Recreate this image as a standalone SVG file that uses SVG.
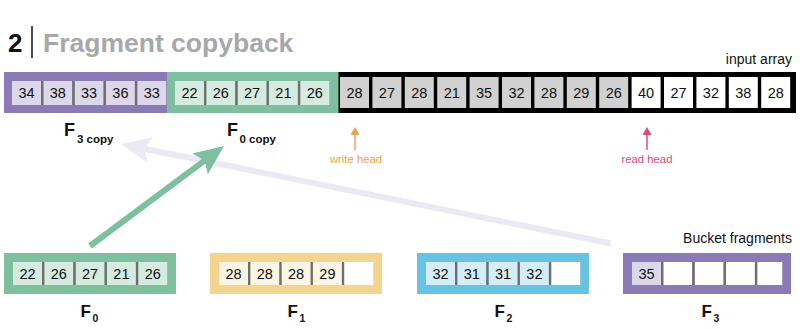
<svg xmlns="http://www.w3.org/2000/svg" width="800" height="329" viewBox="0 0 800 329">
<style>
text{font-family:"Liberation Sans",Arial,sans-serif}
.n{font-size:14.5px;text-anchor:middle;fill:#111}
.sep{fill:#6e6e6e}
.pc{fill:#dcd8ea}.gc{fill:#d6ebe0}.yc{fill:#fbf5e3}.bc{fill:#d4edf6}.kc{fill:#d1d1d1}.wc{fill:#fff}
.lbl{font-weight:bold;fill:#111}
</style>
<defs>
<marker id="hg" markerUnits="userSpaceOnUse" viewBox="0 0 30 26" refX="6" refY="13" markerWidth="30" markerHeight="26" orient="auto"><path d="M0,0 L30,13 L0,26 L6,13 Z" fill="#7dbf9f"/></marker>
<marker id="hl" markerUnits="userSpaceOnUse" viewBox="0 0 30 26" refX="6" refY="13" markerWidth="30" markerHeight="26" orient="auto"><path d="M0,0 L30,13 L0,26 L6,13 Z" fill="#ebe9f4"/></marker>
<marker id="ho" markerUnits="userSpaceOnUse" viewBox="0 0 8 9" refX="1" refY="4.5" markerWidth="8" markerHeight="9" orient="auto"><path d="M0,0 L8,4.5 L0,9 Z" fill="#f0a04c"/></marker>
<marker id="hr" markerUnits="userSpaceOnUse" viewBox="0 0 8 9" refX="1" refY="4.5" markerWidth="8" markerHeight="9" orient="auto"><path d="M0,0 L8,4.5 L0,9 Z" fill="#e0487c"/></marker>
</defs>

<g id="title">
<text x="8" y="51.5" font-size="26" font-weight="bold" fill="#111">2</text>
<line x1="32" y1="26" x2="32" y2="58" stroke="#111" stroke-width="1.5"/>
<text x="43" y="51.5" font-size="26.5" font-weight="bold" fill="#a6a8ab">Fragment copyback</text>
</g>

<g id="input-array">
<rect x="334" y="72" width="462" height="41" fill="#000"/>
<rect class="kc" x="340" y="77" width="29" height="31"/>
<rect class="kc" x="372.4" y="77" width="29" height="31"/>
<rect class="kc" x="404.8" y="77" width="29" height="31"/>
<rect class="kc" x="437.2" y="77" width="29" height="31"/>
<rect class="kc" x="469.6" y="77" width="29" height="31"/>
<rect class="kc" x="502" y="77" width="29" height="31"/>
<rect class="kc" x="534.4" y="77" width="29" height="31"/>
<rect class="kc" x="566.8" y="77" width="29" height="31"/>
<rect class="kc" x="599.2" y="77" width="29" height="31"/>
<rect class="wc" x="631.6" y="77" width="29" height="31"/>
<rect class="wc" x="664" y="77" width="29" height="31"/>
<rect class="wc" x="696.4" y="77" width="29" height="31"/>
<rect class="wc" x="728.8" y="77" width="29" height="31"/>
<rect class="wc" x="761.2" y="77" width="29" height="31"/>
<text class="n" x="354.5" y="97.5">28</text>
<text class="n" x="386.9" y="97.5">27</text>
<text class="n" x="419.3" y="97.5">28</text>
<text class="n" x="451.7" y="97.5">21</text>
<text class="n" x="484.1" y="97.5">35</text>
<text class="n" x="516.5" y="97.5">32</text>
<text class="n" x="548.9" y="97.5">28</text>
<text class="n" x="581.3" y="97.5">29</text>
<text class="n" x="613.7" y="97.5">26</text>
<text class="n" x="646.1" y="97.5">40</text>
<text class="n" x="678.5" y="97.5">27</text>
<text class="n" x="710.9" y="97.5">32</text>
<text class="n" x="743.3" y="97.5">38</text>
<text class="n" x="775.7" y="97.5">28</text>
<text x="792" y="64" font-size="14" text-anchor="end" fill="#111">input array</text>
</g>

<g id="f3-copy">
<rect x="4" y="72" width="172" height="41" fill="#8a7bb6"/>
<rect class="pc" x="12" y="81" width="29" height="24"/>
<rect class="pc" x="43.3" y="81" width="29" height="24"/>
<rect class="pc" x="74.6" y="81" width="29" height="24"/>
<rect class="pc" x="105.9" y="81" width="29" height="24"/>
<rect class="pc" x="137.2" y="81" width="29" height="24"/>
<rect class="sep" x="41" y="81" width="2.3" height="24"/>
<rect class="sep" x="72.3" y="81" width="2.3" height="24"/>
<rect class="sep" x="103.6" y="81" width="2.3" height="24"/>
<rect class="sep" x="134.9" y="81" width="2.3" height="24"/>
<text class="n" x="26.5" y="98">34</text>
<text class="n" x="57.8" y="98">38</text>
<text class="n" x="89.1" y="98">33</text>
<text class="n" x="120.4" y="98">36</text>
<text class="n" x="151.7" y="98">33</text>
<text class="lbl" x="64" y="136" font-size="18">F<tspan font-size="11.5" x="77" y="142.5">3 copy</tspan></text>
</g>

<g id="f0-copy">
<rect x="167" y="72" width="171.5" height="41" fill="#7dbf9f"/>
<rect class="gc" x="175" y="81" width="29" height="24"/>
<rect class="gc" x="206.3" y="81" width="29" height="24"/>
<rect class="gc" x="237.6" y="81" width="29" height="24"/>
<rect class="gc" x="268.9" y="81" width="29" height="24"/>
<rect class="gc" x="300.2" y="81" width="29" height="24"/>
<rect class="sep" x="204" y="81" width="2.3" height="24"/>
<rect class="sep" x="235.3" y="81" width="2.3" height="24"/>
<rect class="sep" x="266.6" y="81" width="2.3" height="24"/>
<rect class="sep" x="297.9" y="81" width="2.3" height="24"/>
<text class="n" x="189.5" y="98">22</text>
<text class="n" x="220.8" y="98">26</text>
<text class="n" x="252.1" y="98">27</text>
<text class="n" x="283.4" y="98">21</text>
<text class="n" x="314.7" y="98">26</text>
<text class="lbl" x="227" y="136" font-size="18">F<tspan font-size="11.5" x="239.5" y="142.5">0 copy</tspan></text>
</g>

<g id="write-head">
<line x1="355" y1="150" x2="355" y2="134" stroke="#f0a04c" stroke-width="1.5" marker-end="url(#ho)"/>
<text x="356" y="163" font-size="11.3" text-anchor="middle" fill="#f0a04c">write head</text>
</g>
<g id="read-head">
<line x1="647" y1="150" x2="647" y2="134" stroke="#e0487c" stroke-width="1.5" marker-end="url(#hr)"/>
<text x="647" y="163" font-size="11.3" text-anchor="middle" fill="#e0487c">read head</text>
</g>

<g id="connectors">
<line x1="611" y1="243.5" x2="144.5" y2="148.8" stroke="#ebe9f4" stroke-width="6" marker-end="url(#hl)"/>
<line x1="90" y1="246" x2="204.8" y2="160.4" stroke="#7dbf9f" stroke-width="6" marker-end="url(#hg)"/>
</g>

<g id="F0">
<rect x="4" y="253" width="172" height="41" fill="#7dbf9f"/>
<rect class="gc" x="13" y="262" width="29" height="23"/>
<rect class="gc" x="44.3" y="262" width="29" height="23"/>
<rect class="gc" x="75.6" y="262" width="29" height="23"/>
<rect class="gc" x="106.9" y="262" width="29" height="23"/>
<rect class="gc" x="138.2" y="262" width="29" height="23"/>
<rect class="sep" x="42" y="262" width="2.3" height="23"/>
<rect class="sep" x="73.3" y="262" width="2.3" height="23"/>
<rect class="sep" x="104.6" y="262" width="2.3" height="23"/>
<rect class="sep" x="135.9" y="262" width="2.3" height="23"/>
<text class="n" x="27.5" y="278.5">22</text>
<text class="n" x="58.8" y="278.5">26</text>
<text class="n" x="90.1" y="278.5">27</text>
<text class="n" x="121.4" y="278.5">21</text>
<text class="n" x="152.7" y="278.5">26</text>
<text class="lbl" x="80.5" y="317" font-size="17">F<tspan font-size="10.5" x="92.5" y="322">0</tspan></text>
</g>

<g id="F1">
<rect x="210" y="253" width="172" height="41" fill="#f5d48f"/>
<rect class="yc" x="219" y="262" width="29" height="23"/>
<rect class="yc" x="250.3" y="262" width="29" height="23"/>
<rect class="yc" x="281.6" y="262" width="29" height="23"/>
<rect class="yc" x="312.9" y="262" width="29" height="23"/>
<rect class="wc" x="344.2" y="262" width="29" height="23"/>
<rect class="sep" x="248" y="262" width="2.3" height="23"/>
<rect class="sep" x="279.3" y="262" width="2.3" height="23"/>
<rect class="sep" x="310.6" y="262" width="2.3" height="23"/>
<rect class="sep" x="341.9" y="262" width="2.3" height="23"/>
<text class="n" x="233.5" y="278.5">28</text>
<text class="n" x="264.8" y="278.5">28</text>
<text class="n" x="296.1" y="278.5">28</text>
<text class="n" x="327.4" y="278.5">29</text>
<text class="lbl" x="287.5" y="317" font-size="17">F<tspan font-size="10.5" x="299.5" y="322">1</tspan></text>
</g>

<g id="F2">
<rect x="417" y="253" width="172" height="41" fill="#67c3e1"/>
<rect class="bc" x="426" y="262" width="29" height="23"/>
<rect class="bc" x="457.3" y="262" width="29" height="23"/>
<rect class="bc" x="488.6" y="262" width="29" height="23"/>
<rect class="bc" x="519.9" y="262" width="29" height="23"/>
<rect class="wc" x="551.2" y="262" width="29" height="23"/>
<rect class="sep" x="455" y="262" width="2.3" height="23"/>
<rect class="sep" x="486.3" y="262" width="2.3" height="23"/>
<rect class="sep" x="517.6" y="262" width="2.3" height="23"/>
<rect class="sep" x="548.9" y="262" width="2.3" height="23"/>
<text class="n" x="440.5" y="278.5">32</text>
<text class="n" x="471.8" y="278.5">31</text>
<text class="n" x="503.1" y="278.5">31</text>
<text class="n" x="534.4" y="278.5">32</text>
<text class="lbl" x="494.5" y="317" font-size="17">F<tspan font-size="10.5" x="506.5" y="322">2</tspan></text>
</g>

<g id="F3">
<text x="792" y="243" font-size="14" text-anchor="end" fill="#111">Bucket fragments</text>
<rect x="623" y="253" width="168" height="41" fill="#8a7bb6"/>
<rect class="pc" x="632" y="262" width="29" height="23"/>
<rect class="wc" x="663.3" y="262" width="29" height="23"/>
<rect class="wc" x="694.6" y="262" width="29" height="23"/>
<rect class="wc" x="725.9" y="262" width="29" height="23"/>
<rect class="wc" x="757.2" y="262" width="25" height="23"/>
<rect class="sep" x="661" y="262" width="2.3" height="23"/>
<rect class="sep" x="692.3" y="262" width="2.3" height="23"/>
<rect class="sep" x="723.6" y="262" width="2.3" height="23"/>
<rect class="sep" x="754.9" y="262" width="2.3" height="23"/>
<text class="n" x="646.5" y="278.5">35</text>
<text class="lbl" x="701.5" y="317" font-size="17">F<tspan font-size="10.5" x="713.5" y="322">3</tspan></text>
</g>
</svg>
